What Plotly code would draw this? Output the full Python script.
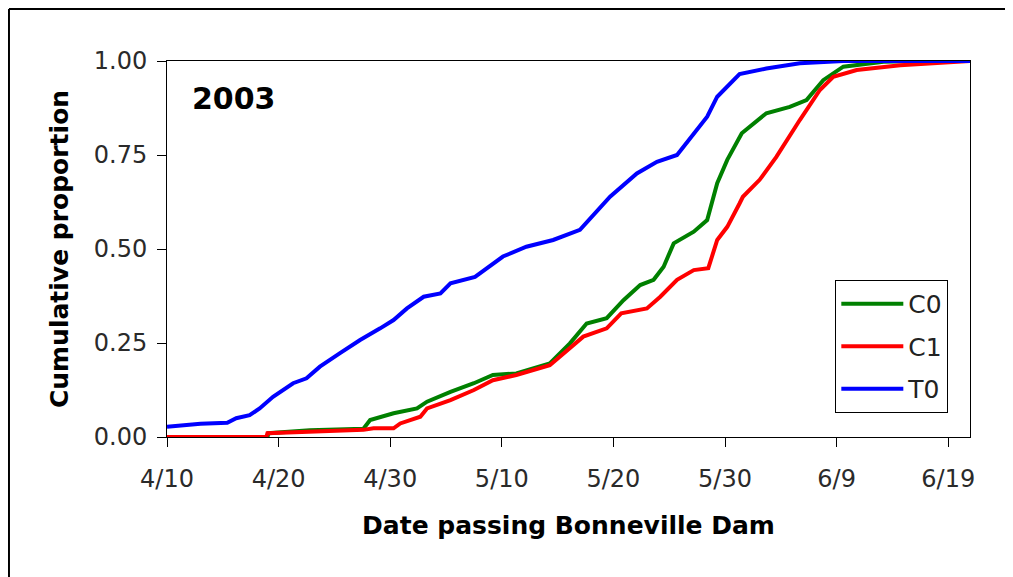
import plotly.graph_objects as go

# Days after 4/10 (2003) and cumulative proportion
day_C0 = [0, 9.0, 9.1, 12.8, 17.6, 18.2, 20.3, 22.4, 23.3, 25.4, 27.5, 29.2, 31.3, 34.3, 36.1, 37.6,
          39.4, 40.9, 42.4, 43.6, 44.5, 45.4, 47.2, 48.4, 49.3, 50.2, 51.5, 53.7, 55.8, 57.3,
          58.8, 60.6, 64.2, 67.2, 72.0]
val_C0 = [0.0, 0.0, 0.01, 0.018, 0.022, 0.045, 0.063, 0.076, 0.094, 0.12, 0.143, 0.165, 0.169, 0.196, 0.249, 0.302,
          0.316, 0.364, 0.404, 0.418, 0.453, 0.515, 0.546, 0.577, 0.675, 0.737, 0.808, 0.861, 0.878, 0.896,
          0.949, 0.985, 0.998, 1.0, 1.0]

day_C1 = [0, 8.9, 9.0, 14.9, 17.6, 18.5, 20.3, 20.9, 22.7, 23.3, 25.4, 27.5, 29.2, 31.3, 34.3, 37.3,
          39.4, 40.7, 43.0, 44.2, 45.7, 47.2, 48.5, 49.3, 50.2, 51.3, 51.6, 53.1, 54.6, 56.7,
          58.5, 59.7, 61.8, 65.7, 68.7, 72.0]
val_C1 = [0.0, 0.0, 0.01, 0.016, 0.019, 0.023, 0.023, 0.036, 0.054, 0.076, 0.098, 0.125, 0.151, 0.165, 0.191, 0.267,
          0.289, 0.329, 0.342, 0.373, 0.418, 0.444, 0.449, 0.524, 0.559, 0.621, 0.639, 0.684, 0.745, 0.843,
          0.923, 0.958, 0.976, 0.989, 0.994, 1.0]

day_T0 = [0, 3.0, 5.4, 6.2, 7.4, 8.3, 9.5, 11.3, 12.5, 13.7, 15.5, 17.3, 19.1, 20.3, 21.5, 23.0,
          24.5, 25.4, 27.6, 30.1, 32.2, 34.6, 37.0, 39.7, 42.1, 43.9, 45.7, 47.2, 48.4, 49.3,
          50.2, 51.3, 53.7, 56.7, 60.6, 72.0]
val_T0 = [0.027, 0.035, 0.038, 0.05, 0.058, 0.076, 0.107, 0.143, 0.156, 0.187, 0.223, 0.258, 0.289, 0.311, 0.342, 0.373,
          0.382, 0.409, 0.426, 0.48, 0.506, 0.524, 0.551, 0.639, 0.701, 0.732, 0.75, 0.808, 0.852, 0.905,
          0.932, 0.965, 0.98, 0.994, 1.0, 1.0]

tick_days = [0, 10, 20, 30, 40, 50, 60, 70]
tick_labels = ["4/10", "4/20", "4/30", "5/10", "5/20", "5/30", "6/9", "6/19"]

series = [("C0", day_C0, val_C0, "#008000"),
          ("C1", day_C1, val_C1, "#ff0000"),
          ("T0", day_T0, val_T0, "#0000ff")]

fig = go.Figure()
for name, xs, ys, col in series:
    fig.add_trace(go.Scatter(x=xs, y=ys, mode="lines", name=name, legendgroup=name,
                             line=dict(color=col, width=4), cliponaxis=False))

tickfont = dict(family="DejaVu Sans", size=24, color="#2a2a2a")
titlefont = dict(family="DejaVu Sans", size=25, color="black", weight="bold")

fig.update_layout(
    width=1005, height=569,
    margin=dict(l=159, r=43, t=53, b=140),
    paper_bgcolor="white", plot_bgcolor="white",
    showlegend=True,
    legend=dict(x=0.973, xanchor="right", y=0.4176, yanchor="top",
                bordercolor="black", borderwidth=1, bgcolor="white",
                font=dict(family="DejaVu Sans", size=25, color="#222"),
                itemwidth=62,
                tracegroupgap=7, traceorder="grouped"),
    xaxis=dict(range=[0, 71.95], tickvals=tick_days, ticktext=tick_labels,
               showline=True, linecolor="black", linewidth=1, mirror=True,
               ticks="outside", ticklen=9, tickcolor="black", tickfont=tickfont,
               ticklabelstandoff=11,
               showgrid=False, zeroline=False,
               title=dict(text="Date passing Bonneville Dam", font=titlefont, standoff=24)),
    yaxis=dict(range=[0, 1], tickvals=[0, 0.25, 0.5, 0.75, 1.0], tickformat=".2f",
               showline=True, linecolor="black", linewidth=1, mirror=True,
               ticks="outside", ticklen=9, tickcolor="black", tickfont=tickfont,
               ticklabelstandoff=5,
               showgrid=False, zeroline=False,
               title=dict(text="Cumulative proportion", font=titlefont, standoff=18)),
    annotations=[dict(text="2003", xref="paper", yref="paper", x=0.084, y=0.899,
                      showarrow=False, xanchor="center", yanchor="middle",
                      font=dict(family="DejaVu Sans", size=30, color="black", weight="bold"))],
    shapes=[
        dict(type="line", xref="paper", yref="paper", x0=-0.1968, x1=-0.1968, y0=-0.38, y1=1.1383,
             line=dict(color="black", width=2)),
        dict(type="line", xref="paper", yref="paper", x0=-0.1968, x1=1.06, y0=1.1383, y1=1.1383,
             line=dict(color="black", width=2)),
    ],
)

fig.write_html("out.html")
